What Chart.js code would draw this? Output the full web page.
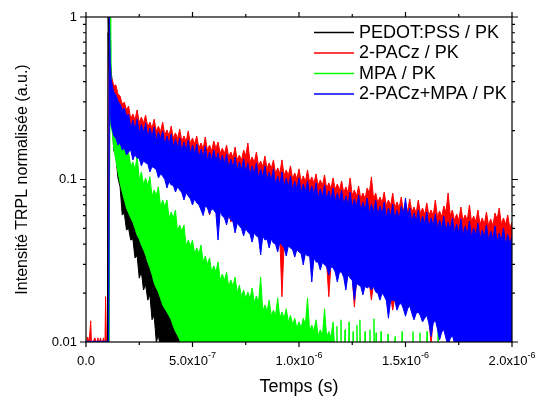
<!DOCTYPE html>
<html><head><meta charset="utf-8">
<script src="https://cdn.jsdelivr.net/npm/chart.js@4.4.1/dist/chart.umd.min.js"></script>
<style>html,body{margin:0;padding:0;background:#fff;}canvas{display:block;}</style>
</head><body>
<canvas id="c" width="536" height="396" style="width:536px;height:396px"></canvas>
<script>
// ---------- data (time in ns, normalised intensity: upper / lower edge of the noisy trace) ----------
const seriesNames = ['PEDOT:PSS / PK', '2-PACz / PK', 'MPA / PK', '2-PACz+MPA / PK'];
const seriesColors = ['#000000', '#ff0000', '#00ff00', '#0000ff'];

// sampling times for 2-PACz and 2-PACz+MPA (ns)
const tGrid = [110,114,118,124,130,140,150,160,170,180,190,200,
 220,240,260,280,300,320,340,360,380,400,420,440,460,480,500,520,540,560,580,600,
 620,640,660,680,700,720,740,760,780,800,820,840,860,880,900,920,940,960,980,1000,
 1020,1040,1060,1080,1100,1120,1140,1160,1180,1200,1220,1240,1260,1280,1300,1320,1340,1360,1380,1400,
 1420,1440,1460,1480,1500,1520,1540,1560,1580,1600,1620,1640,1660,1680,1700,1720,1740,1760,1780,1800,
 1820,1840,1860,1880,1900,1920,1940,1960,1980,2000];
const tMid = [210,230,250,270,290,310,330,350,370,390, 410,430,450,470,490,510,530,550,570,590,
 610,630,650,670,690,710,730,750,770,790, 810,830,850,870,890,910,930,950,970,990,
 1010,1030,1050,1070,1090,1110,1130,1150,1170,1190, 1210,1230,1250,1270,1290,1310,1330,1350,1370,1390,
 1410,1430,1450,1470,1490,1510,1530,1550,1570,1590, 1610,1630,1650,1670,1690,1710,1730,1750,1770,1790,
 1810,1830,1850,1870,1890,1910,1930,1950,1970,1990];

// 2-PACz / PK
const redPreT  = [2,9,14,22,26,42,49,56,61,68,75,82,89,92,96,106];
const redPreHi = [0.0106,0.0107,0.0096,0.0135,0.0096,0.0106,0.0096,0.0106,0.0096,0.0106,0.0096,0.0106,0.0096,0.019,0.0096,0.0096];
const redPreLo = [0.009,0.009,0.009,0.009,0.009,0.009,0.009,0.009,0.009,0.009,0.009,0.009,0.009,0.009,0.009,0.009];
const redHi = [1.0,0.544,0.422,0.41,0.377,0.382,0.336,0.326,0.291,0.299,0.268,0.283,
 0.253,0.268,0.242,0.249,0.2255,0.235,0.213,0.2255,0.202,0.213,
 0.1936,0.204,0.1853,0.199,0.18,0.1853,0.1677,0.1827,0.163,0.1725,
 0.17,0.156,0.163,0.1477,0.1584,0.1415,0.152,0.1677,0.1375,0.1477,
 0.13,0.1395,0.1265,0.132,0.1179,0.132,0.1145,0.1213,0.1097,0.1162,
 0.1052,0.1145,0.1037,0.1082,0.0994,0.1067,0.0953,0.1023,0.0939,0.098,
 0.09,0.1023,0.0862,0.0913,0.0826,0.0887,0.1037,0.0826,0.078,0.0838,
 0.0748,0.0826,0.0727,0.078,0.0697,0.0759,0.0677,0.0748,0.0668,0.0717,
 0.0649,0.0748,0.064,0.0687,0.0826,0.0649,0.0613,0.0677,0.0605,0.0697,
 0.0596,0.0649,0.058,0.0631,0.0572,0.0622,0.0668,0.058,0.0605,0.0547];
const redHiMid = [0.236,0.233,0.224,0.223,0.21,0.206,0.198,0.197,0.188,0.186,
 0.18,0.179,0.172,0.171,0.167,0.166,0.156,0.155,0.151,0.15,
 0.155,0.145,0.144,0.137,0.136,0.132,0.131,0.14,0.128,0.127,
 0.121,0.12,0.117,0.117,0.109,0.109,0.106,0.106,0.101,0.101,
 0.097,0.097,0.096,0.095,0.092,0.092,0.088,0.088,0.087,0.086,
 0.083,0.083,0.08,0.079,0.076,0.076,0.082,0.076,0.072,0.072,
 0.069,0.069,0.067,0.067,0.064,0.064,0.063,0.062,0.062,0.061,
 0.06,0.06,0.059,0.059,0.063,0.06,0.056,0.056,0.056,0.056,
 0.055,0.055,0.053,0.053,0.052,0.052,0.057,0.053,0.053,0.05];
const redLo = [0.544,0.287,0.2386,0.216,0.202,0.1936,0.175,0.18,0.1607,0.1677,0.152,0.1584,
 0.1415,0.1457,0.132,0.1356,0.1213,0.1265,0.1113,0.1145,0.0994,0.1023,
 0.0913,0.0939,0.0826,0.0862,0.077,0.0792,0.0707,0.0748,0.0605,0.0707,
 0.0525,0.0649,0.0572,0.0547,0.051,0.0563,0.0489,0.0518,0.0449,0.0489,
 0.0395,0.0462,0.0412,0.0442,0.0389,0.019,0.0368,0.0412,0.0363,0.0389,
 0.0324,0.0368,0.0277,0.0338,0.0302,0.0324,0.019,0.0311,0.0254,0.0294,
 0.0228,0.0269,0.0164,0.0244,0.0212,0.0234,0.0181,0.0221,0.0197,0.0209,
 0.0153,0.0157,0.0171,0.019,0.0157,0.0181,0.0148,0.0167,0.0144,0.016,
 0.0096,0.0148,0.0112,0.0129,0.0104,0.012,0.0097,0.0096,0.009,0.009,
 0.009,0.009,0.009,0.009,0.009,0.009,0.009,0.009,0.009,0.009];
const redLoMid = [0.16,0.15,0.142,0.137,0.131,0.126,0.12,0.113,0.105,0.102,
 0.097,0.094,0.087,0.087,0.08,0.08,0.074,0.072,0.07,0.069,
 0.065,0.066,0.061,0.062,0.058,0.057,0.053,0.052,0.048,0.049,
 0.046,0.047,0.045,0.045,0.042,0.043,0.04,0.041,0.039,0.039,
 0.037,0.037,0.035,0.035,0.032,0.032,0.03,0.03,0.028,0.028,
 0.026,0.027,0.025,0.024,0.023,0.023,0.023,0.023,0.021,0.021,
 0.019,0.019,0.019,0.018,0.017,0.017,0.016,0.016,0.015,0.015,
 0.014,0.014,0.013,0.012,0.011,0.011,0.0102,0.0098,0.0095,0.009,
 0.009,0.009,0.009,0.009,0.009,0.009,0.009,0.009,0.009,0.009];

// 2-PACz+MPA / PK
const bluePreT  = [0,106];
const bluePreHi = [0.0101,0.0101];
const bluePreLo = [0.009,0.009];
const blueHi = [1.0,0.529,0.41,0.377,0.346,0.331,0.304,0.291,0.268,0.275,0.2455,0.253,
 0.232,0.235,0.219,0.2223,0.207,0.21,0.1963,0.199,0.1853,0.1908,
 0.1776,0.18,0.17,0.175,0.163,0.1653,0.154,0.1607,0.1477,0.152,
 0.1457,0.1415,0.1436,0.1337,0.1375,0.1283,0.1337,0.1265,0.1213,0.1265,
 0.1162,0.1213,0.1113,0.1162,0.1052,0.1113,0.1023,0.1052,0.098,0.1023,
 0.0939,0.098,0.0913,0.0953,0.0875,0.0926,0.085,0.0887,0.0826,0.0862,
 0.0792,0.0838,0.0759,0.0803,0.0727,0.077,0.0707,0.0748,0.0687,0.0727,
 0.0668,0.0707,0.0649,0.0687,0.077,0.0668,0.0622,0.0649,0.0596,0.0631,
 0.058,0.0613,0.0563,0.0596,0.0547,0.058,0.0532,0.0572,0.0518,0.0555,
 0.0503,0.054,0.0489,0.0525,0.0482,0.0518,0.0469,0.0503,0.0462,0.0449];
const blueHiMid = [0.207,0.203,0.193,0.194,0.183,0.184,0.173,0.176,0.164,0.165,
 0.157,0.158,0.149,0.15,0.144,0.144,0.136,0.137,0.131,0.132,
 0.13,0.125,0.125,0.118,0.118,0.114,0.114,0.111,0.107,0.107,
 0.102,0.103,0.099,0.099,0.093,0.093,0.09,0.09,0.086,0.087,
 0.083,0.084,0.081,0.081,0.077,0.078,0.075,0.075,0.073,0.073,
 0.07,0.07,0.067,0.068,0.064,0.065,0.062,0.063,0.06,0.061,
 0.058,0.059,0.057,0.057,0.061,0.059,0.055,0.055,0.053,0.053,
 0.051,0.052,0.05,0.05,0.048,0.049,0.047,0.047,0.045,0.046,
 0.044,0.045,0.043,0.044,0.042,0.043,0.041,0.042,0.04,0.04];
const blueLo = [0.544,0.268,0.216,0.202,0.1853,0.18,0.163,0.1677,0.152,0.156,0.1415,0.1477,
 0.132,0.1356,0.1213,0.1265,0.1113,0.1179,0.1023,0.1052,0.0887,0.0926,
 0.0838,0.0862,0.0748,0.0792,0.0697,0.0717,0.0649,0.0687,0.0613,0.0649,
 0.0424,0.0596,0.0525,0.0563,0.0469,0.0518,0.0449,0.0475,0.0412,0.0449,
 0.0343,0.0424,0.0379,0.0406,0.0358,0.0395,0.0338,0.0379,0.0333,0.0358,
 0.0298,0.0338,0.0234,0.0311,0.0277,0.0298,0.0258,0.0286,0.0234,0.0269,
 0.0209,0.0247,0.0181,0.0224,0.0195,0.0215,0.0209,0.0203,0.0181,0.0192,
 0.014,0.0181,0.0157,0.0173,0.0144,0.0167,0.0137,0.0153,0.0133,0.0146,
 0.0108,0.0137,0.0103,0.0119,0.0096,0.011,0.009,0.009,0.009,0.009,
 0.009,0.009,0.009,0.009,0.009,0.009,0.009,0.009,0.009,0.009];
const blueLoMid = [0.152,0.142,0.135,0.13,0.125,0.12,0.115,0.108,0.1,0.097,
 0.092,0.09,0.083,0.083,0.076,0.076,0.07,0.06,0.067,0.066,
 0.062,0.064,0.058,0.06,0.055,0.054,0.05,0.05,0.046,0.047,
 0.044,0.045,0.043,0.043,0.04,0.041,0.038,0.039,0.037,0.037,
 0.035,0.035,0.034,0.033,0.031,0.031,0.029,0.029,0.027,0.027,
 0.025,0.026,0.024,0.023,0.022,0.022,0.022,0.022,0.02,0.02,
 0.018,0.018,0.018,0.017,0.016,0.016,0.015,0.015,0.0145,0.014,
 0.013,0.013,0.012,0.0115,0.0105,0.0105,0.0098,0.0095,0.0092,0.009,
 0.009,0.009,0.009,0.009,0.009,0.009,0.009,0.009,0.009,0.009];

// MPA / PK
const greenT = [108,113,116,120,125,130,140,150,160,170,180,190,200,
 220,240,260,280,300,320,340,360,380,400,420,440,460,480,500,520,540,560,580,600,
 620,640,660,680,700,720,740,760,780,800,820,840,860,880,900,920,940,960,980,1000,
 1020,1040,1060,1080,1100,1120,1140,1160,1168,
 1176,1178,1180, 1195,1197,1199, 1214,1216,1218, 1233,1235,1237, 1252,1254,1256,
 1270,1272,1274, 1284,1286,1288, 1308,1310,1312, 1331,1333,1335, 1350,1352,1354,
 1360,1362,1364, 1383,1385,1387, 1416,1418,1420, 1449,1451,1453, 1482,1484,1486,
 1533,1535,1537, 1566,1568,1570, 1599,1601,1603, 1651,1653,1655];
const greenHi = [0.009,1.0,0.331,0.308,0.257,0.2386,0.216,0.1936,0.18,0.1607,0.156,0.1415,0.1477,
 0.1283,0.1395,0.1113,0.1023,0.104,0.0862,0.09,0.0748,0.0748,0.0631,
 0.0649,0.0525,0.0525,0.0424,0.0424,0.0379,0.0395,0.0338,0.0329,0.0294,
 0.0311,0.0262,0.0269,0.0241,0.0251,0.0224,0.0209,0.0203,0.0215,0.0192,
 0.0251,0.0169,0.0181,0.0157,0.0187,0.0153,0.016,0.0146,0.014,0.0133,
 0.014,0.0187,0.0127,0.0137,0.0119,0.016,0.0116,0.0133,0.009,
 0.009,0.0125,0.009, 0.009,0.0137,0.009, 0.009,0.0119,0.009, 0.009,0.0133,0.009, 0.009,0.0116,0.009,
 0.009,0.0127,0.009, 0.009,0.0137,0.009, 0.009,0.0116,0.009, 0.009,0.0119,0.009, 0.009,0.0139,0.009,
 0.009,0.0114,0.009, 0.009,0.0116,0.009, 0.009,0.0112,0.009, 0.009,0.0108,0.009, 0.009,0.0116,0.009,
 0.009,0.0116,0.009, 0.009,0.0114,0.009, 0.009,0.0116,0.009, 0.009,0.0116,0.009];
const greenLo = [0.009,0.722,0.216,0.207,0.188,0.156,0.132,0.1113,0.0953,0.0838,0.0748,0.0668,0.0622,
 0.0547,0.0455,0.0395,0.0343,0.0286,0.0231,0.0203,0.0169,0.0153,0.0137,
 0.0116,0.0103,0.009,0.009,0.009,0.009,0.009,0.009,0.009,0.009,
 0.009,0.009,0.009,0.009,0.009,0.009,0.009,0.009,0.009,0.009,
 0.009,0.009,0.009,0.009,0.009,0.009,0.009,0.009,0.009,0.009,
 0.009,0.009,0.009,0.009,0.009,0.009,0.009,0.009,0.009,
 0.009,0.009,0.009, 0.009,0.009,0.009, 0.009,0.009,0.009, 0.009,0.009,0.009, 0.009,0.009,0.009,
 0.009,0.009,0.009, 0.009,0.009,0.009, 0.009,0.009,0.009, 0.009,0.009,0.009, 0.009,0.009,0.009,
 0.009,0.009,0.009, 0.009,0.009,0.009, 0.009,0.009,0.009, 0.009,0.009,0.009, 0.009,0.009,0.009,
 0.009,0.009,0.009, 0.009,0.009,0.009, 0.009,0.009,0.009, 0.009,0.009,0.009];
const greenTMid = [210,230,250,270,290,310,330,350,370,390, 410,430,450,470,490,510,530,550,570,590,
 610,630,650,670,690,710,730,750,770,790, 810,830,850,870,890,910,930,950,970,990,
 1010,1030,1050,1070,1090,1110,1130,1150];
const greenHiMid = [0.12,0.115,0.1,0.093,0.092,0.079,0.08,0.068,0.068,0.058,
 0.058,0.048,0.048,0.039,0.039,0.035,0.035,0.031,0.03,0.027,
 0.027,0.024,0.024,0.022,0.022,0.02,0.019,0.0185,0.0185,0.0175,
 0.0175,0.0155,0.0155,0.0145,0.0145,0.014,0.014,0.0133,0.0128,0.0122,
 0.0122,0.0128,0.0117,0.0117,0.011,0.011,0.0107,0.0107];
const greenLoMid = [0.058,0.05,0.043,0.037,0.031,0.026,0.0215,0.0185,0.016,0.0145,
 0.0125,0.011,0.0095,0.009,0.009,0.009,0.009,0.009,0.009,0.009,
 0.009,0.009,0.009,0.009,0.009,0.009,0.009,0.009,0.009,0.009,
 0.009,0.009,0.009,0.009,0.009,0.009,0.009,0.009,0.009,0.009,
 0.009,0.009,0.009,0.009,0.009,0.009,0.009,0.009];

// PEDOT:PSS / PK
const blackT = [101,104,107,110,120,130,140,150,160,170,180,190,200,
 210,220,230,240,250,260,270,280,290,300,310,320,330,340,350,360,370,380,390,400,
 410,420,430,440,450,460,470,480];
const blackHi = [0.009,1.0,0.7,0.626,0.44,0.331,0.268,0.216,0.175,0.152,0.1356,0.1145,0.1023,
 0.0862,0.0792,0.0697,0.0631,0.0563,0.0518,0.0455,0.0424,0.0368,0.0343,
 0.0306,0.0286,0.0247,0.0231,0.0209,0.0192,0.0181,0.0167,0.0153,0.014,
 0.0133,0.0122,0.0116,0.0108,0.0106,0.0103,0.0098,0.009];
const blackLo = [0.009,0.8,0.5,0.44,0.268,0.152,0.14,0.1023,0.09,0.0605,0.062,0.0489,0.05,
 0.0424,0.043,0.0329,0.034,0.0247,0.027,0.0209,0.0225,0.0181,0.0195,
 0.0137,0.0145,0.01,0.011,0.009,0.0098,0.009,0.009,0.009,0.009,
 0.009,0.009,0.009,0.009,0.009,0.009,0.009,0.009];

// axis ticks
const xMajor = [0, 5e-7, 1e-6, 1.5e-6, 2e-6];
const xMinor = [2.5e-7, 7.5e-7, 1.25e-6, 1.75e-6];
const xTickText = [['0.0',''],['5.0x10','-7'],['1.0x10','-6'],['1.5x10','-6'],['2.0x10','-6']];
const yMajor = [0.01, 0.1, 1];
const yTickText = ['0.01', '0.1', '1'];
const yMinor = [0.02,0.03,0.04,0.05,0.06,0.07,0.08,0.09,0.2,0.3,0.4,0.5,0.6,0.7,0.8,0.9];
const xTitle = 'Temps (s)';
const yTitle = 'Intensité TRPL normalisée (a.u.)';

// ---------- build ----------
function pts(t, v) { return t.map((ti, i) => ({ x: ti * 1e-9, y: v[i] })); }
function merge(...parts) { return [].concat(...parts).sort((a, b) => a.x - b.x); }
function band(name, color, upper, lower) {
  return [
    { label: name, data: upper, borderColor: color, backgroundColor: color,
      borderWidth: 1, pointRadius: 0, fill: '+1', tension: 0 },
    { label: name + ' (bas)', data: lower, borderColor: color, backgroundColor: color,
      borderWidth: 1, pointRadius: 0, fill: false, tension: 0 }
  ];
}
// first datasets are drawn on top
const datasets = [].concat(
  band(seriesNames[3], seriesColors[3],
    merge(pts(bluePreT, bluePreHi), pts(tGrid, blueHi), pts(tMid, blueHiMid)),
    merge(pts(bluePreT, bluePreLo), pts(tGrid, blueLo), pts(tMid, blueLoMid))),
  band(seriesNames[2], seriesColors[2],
    merge(pts(greenT, greenHi), pts(greenTMid, greenHiMid)),
    merge(pts(greenT, greenLo), pts(greenTMid, greenLoMid))),
  band(seriesNames[1], seriesColors[1],
    merge(pts(redPreT, redPreHi), pts(tGrid, redHi), pts(tMid, redHiMid)),
    merge(pts(redPreT, redPreLo), pts(tGrid, redLo), pts(tMid, redLoMid))),
  band(seriesNames[0], seriesColors[0], pts(blackT, blackHi), pts(blackT, blackLo))
);

const FONT = '"Liberation Sans", Arial, sans-serif';
const framePlugin = {
  id: 'frame',
  afterDraw(chart) {
    const { ctx, chartArea: a, scales: { x, y } } = chart;
    ctx.save();
    ctx.setLineDash([]);
    ctx.strokeStyle = '#000'; ctx.lineWidth = 1.2;
    ctx.strokeRect(a.left, a.top, a.right - a.left, a.bottom - a.top);
    ctx.beginPath();
    xMajor.forEach(v => { const p = x.getPixelForValue(v);
      ctx.moveTo(p, a.bottom); ctx.lineTo(p, a.bottom + 5);
      ctx.moveTo(p, a.top); ctx.lineTo(p, a.top - 5); });
    xMinor.forEach(v => { const p = x.getPixelForValue(v);
      ctx.moveTo(p, a.bottom); ctx.lineTo(p, a.bottom + 3);
      ctx.moveTo(p, a.top); ctx.lineTo(p, a.top - 3); });
    yMajor.forEach(v => { const p = y.getPixelForValue(v);
      ctx.moveTo(a.left, p); ctx.lineTo(a.left - 6, p);
      ctx.moveTo(a.right, p); ctx.lineTo(a.right + 6, p); });
    yMinor.forEach(v => { const p = y.getPixelForValue(v);
      ctx.moveTo(a.left, p); ctx.lineTo(a.left - 3, p);
      ctx.moveTo(a.right, p); ctx.lineTo(a.right + 3, p); });
    ctx.stroke();

    ctx.fillStyle = '#000';
    ctx.font = '13px ' + FONT; ctx.textAlign = 'right'; ctx.textBaseline = 'middle';
    yMajor.forEach((v, i) => ctx.fillText(yTickText[i], a.left - 9, y.getPixelForValue(v)));
    ctx.textAlign = 'left'; ctx.textBaseline = 'alphabetic';
    xMajor.forEach((v, i) => {
      const p = x.getPixelForValue(v);
      const [m, e] = xTickText[i];
      ctx.font = '13px ' + FONT; const wm = ctx.measureText(m).width;
      ctx.font = '9px ' + FONT; const we = e ? ctx.measureText(e).width : 0;
      const s = p - (wm + we) / 2;
      ctx.font = '13px ' + FONT; ctx.fillText(m, s, 365);
      if (e) { ctx.font = '9px ' + FONT; ctx.fillText(e, s + wm, 358); }
    });
    ctx.font = '18px ' + FONT; ctx.textAlign = 'center';
    ctx.fillText(xTitle, (a.left + a.right) / 2, 392);
    ctx.save();
    ctx.translate(27, (a.top + a.bottom) / 2); ctx.rotate(-Math.PI / 2);
    ctx.font = '16px ' + FONT; ctx.fillText(yTitle, 0, 0);
    ctx.restore();
    // legend
    ctx.font = '18px ' + FONT; ctx.textAlign = 'left'; ctx.textBaseline = 'middle';
    seriesNames.forEach((n, i) => {
      const yy = 32.5 + 20.5 * i;
      ctx.fillStyle = seriesColors[i];
      ctx.fillRect(314, yy - 0.75, 40, 1.5);
      ctx.fillStyle = '#000'; ctx.fillText(n, 359, yy + 0.5);
    });
    ctx.restore();
  }
};

new Chart(document.getElementById('c'), {
  type: 'line',
  data: { datasets },
  options: {
    responsive: false, animation: false, devicePixelRatio: 1, events: [],
    layout: { padding: { left: 86, right: 24, top: 17, bottom: 54 } },
    scales: {
      x: { type: 'linear', min: 0, max: 2e-6, display: false },
      y: { type: 'logarithmic', min: 0.01, max: 1, display: false }
    },
    plugins: { legend: { display: false }, tooltip: { enabled: false } }
  },
  plugins: [framePlugin]
});
</script>
</body></html>
